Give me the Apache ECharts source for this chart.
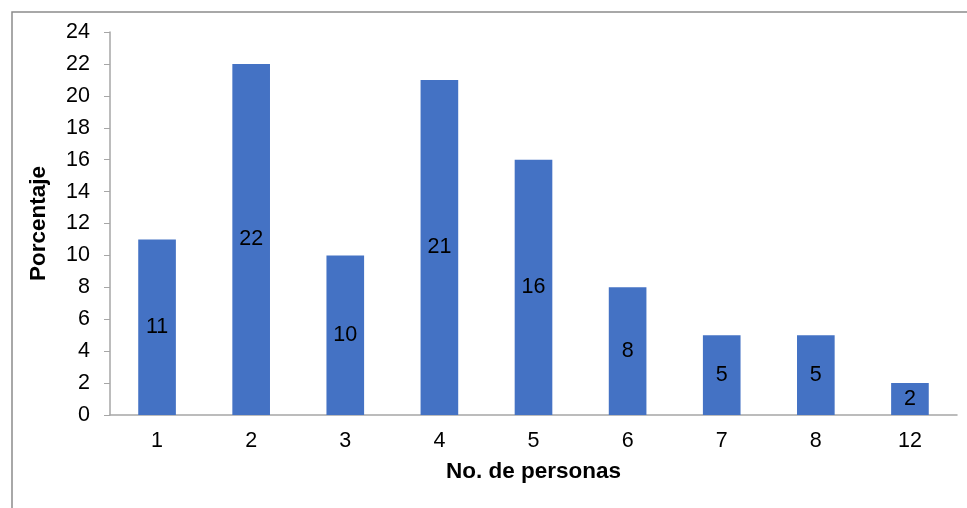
<!DOCTYPE html>
<html>
<head>
<meta charset="utf-8">
<script src="https://cdn.jsdelivr.net/npm/echarts@6/dist/echarts.min.js"></script>
<style>html,body{margin:0;padding:0;background:#fff}#c{width:967px;height:508px}</style>
</head>
<body>
<div id="c"></div>
<script>
const categories = ['1','2','3','4','5','6','7','8','12'];
const values = [11, 22, 10, 21, 16, 8, 5, 5, 2];
const yTitle = 'Porcentaje';
const xTitle = 'No. de personas';

const chart = echarts.init(document.getElementById('c'));
const font = 'Liberation Sans, Arial, sans-serif';
chart.setOption({
  animation: false,
  backgroundColor: '#fff',
  graphic: [{
    type: 'rect', left: 9.5, top: 9.5, shape: { width: 1000, height: 600 },
    style: { fill: 'none', stroke: '#8c8c8c', lineWidth: 1.5 }, silent: true
  }],
  grid: { left: 110, right: 10, top: 32, bottom: 93 },
  xAxis: {
    type: 'category', data: categories,
    name: xTitle, nameLocation: 'middle', nameGap: 45,
    nameTextStyle: { fontFamily: font, fontSize: 22.5, fontWeight: 'bold', color: '#000' },
    axisLine: { lineStyle: { color: '#a6a6a6', width: 1.5 } },
    axisTick: { length: 6, lineStyle: { color: '#a6a6a6' } },
    axisLabel: { fontFamily: font, fontSize: 21.5, color: '#000', margin: 15 }
  },
  yAxis: {
    type: 'value', min: 0, max: 24, interval: 2,
    name: yTitle, nameLocation: 'middle', nameGap: 60,
    nameTextStyle: { fontFamily: font, fontSize: 22.5, fontWeight: 'bold', color: '#000' },
    axisLine: { show: true, lineStyle: { color: '#a6a6a6', width: 1.5 } },
    axisTick: { show: true, length: 6, lineStyle: { color: '#a6a6a6' } },
    splitLine: { show: false },
    axisLabel: { fontFamily: font, fontSize: 21.5, color: '#000', margin: 20 }
  },
  series: [{
    type: 'bar', data: values, barWidth: '40%',
    itemStyle: { color: '#4472C4' },
    label: { show: true, position: 'inside', fontFamily: font, fontSize: 21.5, color: '#000' }
  }]
});
</script>
</body>
</html>
